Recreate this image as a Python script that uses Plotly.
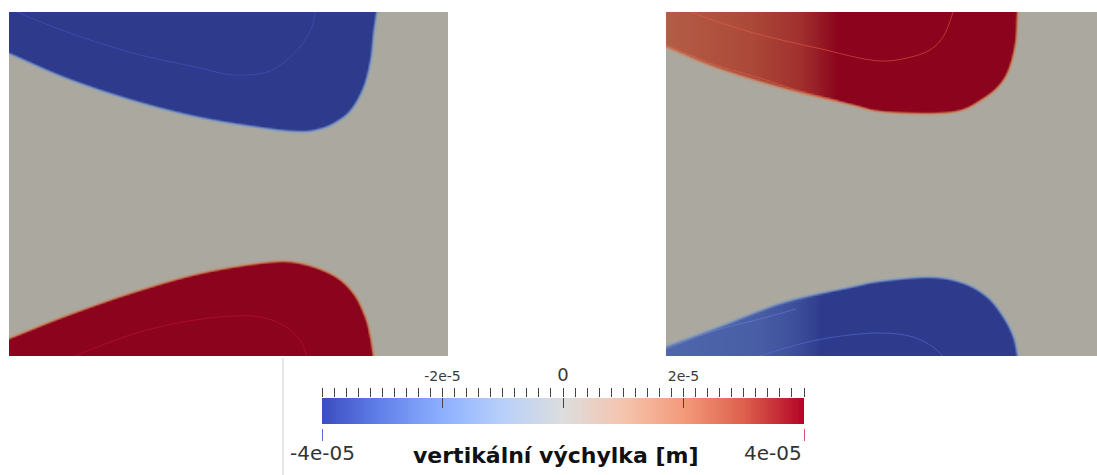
import numpy as np
import plotly.graph_objects as go

# ---------------------------------------------------------------- data
VMIN, VMAX = -4e-05, 4e-05
MAJOR_TICKS = [-2e-05, 0.0, 2e-05]
MAJOR_LABELS = ["-2e-5", "0", "2e-5"]
MINOR_STEP = 2e-06
END_LABELS = ["-4e-05", "4e-05"]
TITLE = "vertikální výchylka [m]"

# Cool-to-warm colour map (position, rgb)
CMAP_POS = [0.0, 0.125, 0.25, 0.375, 0.5, 0.625, 0.75, 0.875, 1.0]
CMAP_RGB = [(59, 76, 192), (98, 130, 234), (141, 176, 254), (184, 208, 249),
            (221, 221, 221), (245, 196, 173), (244, 154, 123), (222, 96, 77),
            (180, 4, 38)]
SHADE = (0.774, 0.760, 0.724)          # lighting of the rendered surfaces

# panel sizes (model units)
LEFT_W, LEFT_H = 439, 344
RIGHT_W, RIGHT_H = 431, 344

# left panel: upper lobe (negative) boundary
LT_X = [0, 58, 124, 191, 258, 291, 308, 324, 341, 354, 361, 364, 367]
LT_Y = [41, 66, 88, 105, 116, 119, 117, 111, 98, 75, 48, 21, 0]
LT_VAL_X = [0, 439]
LT_VAL = [-4.4e-05, -4.4e-05]
# left panel: lower lobe (positive) boundary
LB_X = [0, 58, 124, 191, 258, 291, 324, 344, 356, 361, 364]
LB_Y = [326, 303, 280, 261, 250, 251, 263, 281, 305, 325, 344]
LB_VAL_X = [0, 439]
LB_VAL = [4.4e-05, 4.4e-05]
# right panel: upper lobe (positive) boundary
RT_X = [0, 51, 117, 184, 214, 264, 294, 314, 331, 342, 349, 351]
RT_Y = [35, 56, 76, 92, 99, 101, 98, 88, 75, 58, 31, 0]
RT_VAL_X = [0, 84, 134, 167, 181]
RT_VAL = [2.55e-05, 3.0e-05, 3.35e-05, 3.9e-05, 4.4e-05]
# right panel: lower lobe (negative) boundary
RB_X = [0, 51, 117, 184, 214, 264, 297, 321, 337, 347, 351]
RB_Y = [334, 315, 290, 275, 269, 265, 271, 285, 305, 325, 344]
RB_VAL_X = [0, 94, 124, 150, 165]
RB_VAL = [-2.9e-05, -3.15e-05, -3.45e-05, -3.85e-05, -4.4e-05]

# contour lines inside the lobes
LT_C_X = [8, 58, 124, 191, 224, 258, 274, 291, 303, 306]
LT_C_Y = [0, 20, 41, 56, 63, 60, 51, 35, 15, 0]
LB_C_X = [66, 124, 174, 224, 251, 274, 291, 298]
LB_C_Y = [344, 322, 310, 304, 305, 313, 328, 344]
RT_C_X = [24, 84, 151, 214, 241, 264, 277, 287]
RT_C_Y = [0, 20, 36, 49, 46, 38, 25, 0]
RT_E_X = [0, 50, 94, 140, 172]
RT_E_Y = [33, 53, 66, 81, 89]
RB_C_X = [94, 151, 214, 247, 267, 277]
RB_C_Y = [344, 328, 321, 325, 335, 344]
RB_E_X = [0, 51, 94, 130]
RB_E_Y = [337, 318, 307, 297]


# ---------------------------------------------------------------- helpers
def colorscale(shade=(1, 1, 1)):
    return [[p, "rgb(%d,%d,%d)" % tuple(round(c * s) for c, s in zip(rgb, shade))]
            for p, rgb in zip(CMAP_POS, CMAP_RGB)]


def smooth_curve(xs, ys, n=10):
    P = np.column_stack([xs, ys]).astype(float)
    P = np.vstack([2 * P[0] - P[1], P, 2 * P[-1] - P[-2]])
    out = []
    for i in range(1, len(P) - 2):
        p0, p1, p2, p3 = P[i - 1], P[i], P[i + 1], P[i + 2]
        for t in np.linspace(0, 1, n, endpoint=False):
            out.append(0.5 * (2 * p1 + (-p0 + p2) * t
                              + (2 * p0 - 5 * p1 + 4 * p2 - p3) * t * t
                              + (-p0 + 3 * p1 - 3 * p2 + p3) * t ** 3))
    out.append(P[-2])
    return np.array(out)


def seg_dist(px, py, C):
    d = np.full(px.shape, np.inf)
    for (x0, y0), (x1, y1) in zip(C[:-1], C[1:]):
        dx, dy = x1 - x0, y1 - y0
        L2 = dx * dx + dy * dy
        if L2 == 0:
            continue
        t = np.clip(((px - x0) * dx + (py - y0) * dy) / L2, 0, 1)
        d = np.minimum(d, np.hypot(px - (x0 + t * dx), py - (y0 + t * dy)))
    return d


def inside(px, py, poly):
    res = np.zeros(px.shape, bool)
    n = len(poly)
    for i in range(n):
        x0, y0 = poly[i]
        x1, y1 = poly[(i + 1) % n]
        cond = (y0 > py) != (y1 > py)
        with np.errstate(divide="ignore", invalid="ignore"):
            xc = (x1 - x0) * (py - y0) / (y1 - y0) + x0
        res ^= cond & (px < xc)
    return res


def lobe(px, py, bx, by, vx, vv, upper, width=5.0):
    C = smooth_curve(bx, by)
    a = C[0] + (C[0] - C[1]) / np.linalg.norm(C[0] - C[1]) * 40
    b = C[-1] + (C[-1] - C[-2]) / np.linalg.norm(C[-1] - C[-2]) * 40
    C = np.vstack([a, C, b])
    corner = (-60, -60) if upper else (-60, 420)
    poly = [tuple(p) for p in C] + [corner]
    d = seg_dist(px, py, C)
    d = np.where(inside(px, py, poly), d, -d)
    s = np.clip(0.5 + d / width, 0, 1)
    s = s * s * (3 - 2 * s)
    return np.interp(px, vx, vv) * s


def field(W, H, lobes, step=2):
    xs = np.arange(0, W + step, step, dtype=float)
    ys = np.arange(0, H + step, step, dtype=float)
    px, py = np.meshgrid(xs, ys)
    z = np.zeros(px.shape)
    for lb in lobes:
        z += lobe(px, py, *lb)
    return xs, ys, np.round(z, 9)


# ---------------------------------------------------------------- figure
FW, FH = 1097, 475
fig = go.Figure()

lx, ly, lz = field(LEFT_W, LEFT_H, [(LT_X, LT_Y, LT_VAL_X, LT_VAL, True),
                                     (LB_X, LB_Y, LB_VAL_X, LB_VAL, False)])
rx, ry, rz = field(RIGHT_W, RIGHT_H, [(RT_X, RT_Y, RT_VAL_X, RT_VAL, True),
                                       (RB_X, RB_Y, RB_VAL_X, RB_VAL, False)])
shaded = colorscale(SHADE)
fig.add_trace(go.Heatmap(x=lx, y=ly, z=lz, colorscale=shaded, zmin=VMIN, zmax=VMAX,
                         zsmooth="best", showscale=False, hoverinfo="skip",
                         xaxis="x", yaxis="y"))
fig.add_trace(go.Heatmap(x=rx, y=ry, z=rz, colorscale=shaded, zmin=VMIN, zmax=VMAX,
                         zsmooth="best", showscale=False, hoverinfo="skip",
                         xaxis="x2", yaxis="y2"))


def cline(xs, ys, color, xa, ya):
    fig.add_trace(go.Scatter(x=xs, y=ys, mode="lines", xaxis=xa, yaxis=ya,
                             line=dict(color=color, width=1, shape="spline", smoothing=1.0),
                             hoverinfo="skip", showlegend=False))


cline(LT_C_X, LT_C_Y, "rgba(70,88,200,0.55)", "x", "y")
cline(LB_C_X, LB_C_Y, "rgba(200,20,50,0.55)", "x", "y")
cline(RT_C_X, RT_C_Y, "rgba(235,95,75,0.55)", "x2", "y2")
cline(RT_E_X, RT_E_Y, "rgba(235,105,80,0.45)", "x2", "y2")
cline(RB_C_X, RB_C_Y, "rgba(90,115,220,0.55)", "x2", "y2")
cline(RB_E_X, RB_E_Y, "rgba(110,140,230,0.45)", "x2", "y2")

# colour bar as its own heatmap
bar_x = np.linspace(VMIN, VMAX, 257)
fig.add_trace(go.Heatmap(x=bar_x, y=[0], z=[bar_x], colorscale=colorscale(),
                         zmin=VMIN, zmax=VMAX, showscale=False, hoverinfo="skip",
                         xaxis="x3", yaxis="y3"))
# invisible anchors so that the overlay tick axes are drawn
for xa in ("x4", "x5", "x6"):
    fig.add_trace(go.Scatter(x=[0.0], y=[0.0], mode="markers", xaxis=xa, yaxis="y3",
                             marker=dict(opacity=0, size=1), hoverinfo="skip",
                             showlegend=False))

all_ticks = [round(v, 12) for v in np.arange(VMIN, VMAX + MINOR_STEP / 2, MINOR_STEP)]
label_map = {round(v, 12): t for v, t in zip(MAJOR_TICKS, MAJOR_LABELS)}
all_text = []
for v in all_ticks:
    t = label_map.get(v, "")
    if t == "0":
        t = '<span style="font-size:18px">0</span>'
    all_text.append(t)

pdom_y = [1 - 356 / FH, 1 - 12 / FH]
hidden = dict(visible=False, showgrid=False, zeroline=False)
tick_font = dict(family="DejaVu Sans", size=14, color="#3a3a3a")
plain = dict(showgrid=False, zeroline=False, showline=False, range=[VMIN, VMAX],
             tickmode="array", tickwidth=1)
fig.update_layout(
    width=FW, height=FH, margin=dict(l=0, r=0, t=0, b=0),
    paper_bgcolor="white", plot_bgcolor="white", showlegend=False,
    xaxis=dict(domain=[9 / FW, 448 / FW], range=[0, LEFT_W], **hidden),
    yaxis=dict(domain=pdom_y, range=[LEFT_H, 0], **hidden),
    xaxis2=dict(domain=[666 / FW, 1.0], range=[0, RIGHT_W], anchor="y2", **hidden),
    yaxis2=dict(domain=pdom_y, range=[RIGHT_H, 0], anchor="x2", **hidden),
    xaxis3=dict(domain=[322 / FW, 804 / FW], anchor="y3", side="top",
                tickvals=all_ticks, ticktext=all_text, ticks="outside", ticklen=9,
                tickcolor="#444", tickfont=tick_font, ticklabelstandoff=1, **plain),
    xaxis4=dict(overlaying="x3", anchor="y3", side="top", tickvals=MAJOR_TICKS,
                ticks="inside", ticklen=10, tickcolor="#444", showticklabels=False,
                **plain),
    xaxis5=dict(overlaying="x3", anchor="free", position=1 - 428 / FH, side="bottom",
                tickvals=[VMIN], ticks="outside", ticklen=12, tickcolor="#5a6ee0",
                showticklabels=False, **plain),
    xaxis6=dict(overlaying="x3", anchor="free", position=1 - 428 / FH, side="bottom",
                tickvals=[VMAX], ticks="outside", ticklen=12, tickcolor="#e0506a",
                showticklabels=False, **plain),
    yaxis3=dict(domain=[1 - 424 / FH, 1 - 398 / FH], range=[-0.5, 0.5], anchor="x3",
                **hidden),
)

end_font = dict(family="DejaVu Sans", size=20, color="#333")
fig.add_annotation(x=VMIN, xref="x3", y=1 - 453 / FH, yref="paper", text=END_LABELS[0],
                   showarrow=False, xanchor="center", yanchor="middle", font=end_font)
fig.add_annotation(x=VMAX, xref="x3", y=1 - 453 / FH, yref="paper", text=END_LABELS[1],
                   showarrow=False, xanchor="right", yanchor="middle", font=end_font)
fig.add_annotation(x=556 / FW, xref="paper", y=1 - 455 / FH, yref="paper", text=TITLE,
                   showarrow=False, xanchor="center", yanchor="middle",
                   font=dict(family="DejaVu Sans", size=22, color="#111", weight="bold"))
fig.add_shape(type="line", xref="paper", yref="paper", x0=283 / FW, x1=283 / FW,
              y0=0, y1=1 - 358 / FH, line=dict(color="#cfcfcf", width=1))

fig.write_html("out.html")
